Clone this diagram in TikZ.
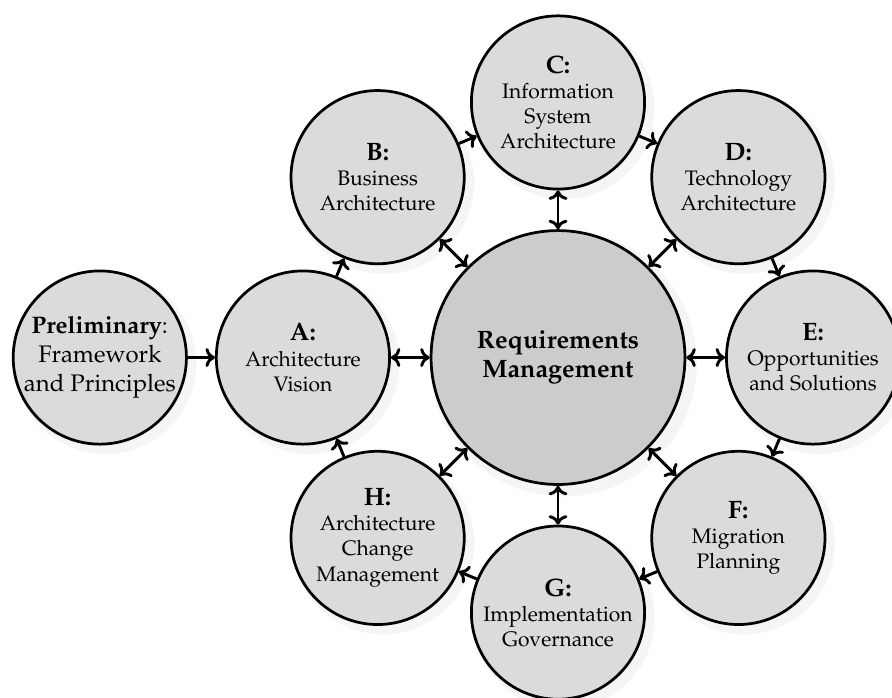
\documentclass[tikz,border=0pt]{standalone}
\usepackage[T1]{fontenc}
\usepackage{mathpazo}
\usetikzlibrary{shadows, arrows.meta}

\begin{document}
\begin{tikzpicture}[
  >={To[length=4.5pt, width=9pt]},
  phase/.style={circle, draw, line width=1.3pt, fill=black!14, minimum size=2.9cm,
    inner sep=0pt, align=center,
    drop shadow={fill=black!8, shadow xshift=2.5pt, shadow yshift=-2.5pt, shadow scale=1.05}},
  core/.style={phase, fill=black!20, minimum size=4.25cm, font=\large\bfseries},
  link/.style={line width=1.4pt}
]
\useasboundingbox (-9.341,-5.683) rectangle (5.591,5.985);

% centre and the eight phases round it
\node[core] (req) at (0,0) {Requirements\\Management};
\node[phase] (a) at (180:4.27) {{\large\bfseries A:}\\Architecture\\Vision};
\node[phase] (b) at (135:4.27) {{\large\bfseries B:}\\Business\\Architecture};
\node[phase] (c) at (90:4.27) {{\large\bfseries C:}\\Information\\System\\Architecture};
\node[phase] (d) at (45:4.27) {{\large\bfseries D:}\\Technology\\Architecture};
\node[phase] (e) at (0:4.27) {{\large\bfseries E:}\\Opportunities\\and Solutions};
\node[phase] (f) at (-45:4.27) {{\large\bfseries F:}\\Migration\\Planning};
\node[phase] (g) at (-90:4.27) {{\large\bfseries G:}\\Implementation\\Governance};
\node[phase] (h) at (-135:4.27) {{\large\bfseries H:}\\Architecture\\Change\\Management};
\node[phase, font=\fontsize{11.4}{13.8}\selectfont] (prelim) at (-7.67,0) {\textbf{Preliminary}:\\Framework\\and Principles};

\draw[link, ->] (prelim) -- (a);

\draw[link, <->] (a) -- (req);
\draw[link, <->] (b) -- (req);
\draw[link, <->] (c) -- (req);
\draw[link, <->] (d) -- (req);
\draw[link, <->] (e) -- (req);
\draw[link, <->] (f) -- (req);
\draw[link, <->] (g) -- (req);
\draw[link, <->] (h) -- (req);

% the cycle
\draw[link, ->] (a) -- (b);
\draw[link, ->] (b) -- (c);
\draw[link, ->] (c) -- (d);
\draw[link, ->] (d) -- (e);
\draw[link, ->] (e) -- (f);
\draw[link, ->] (f) -- (g);
\draw[link, ->] (g) -- (h);
\draw[link, ->] (h) -- (a);
\end{tikzpicture}
\end{document}
